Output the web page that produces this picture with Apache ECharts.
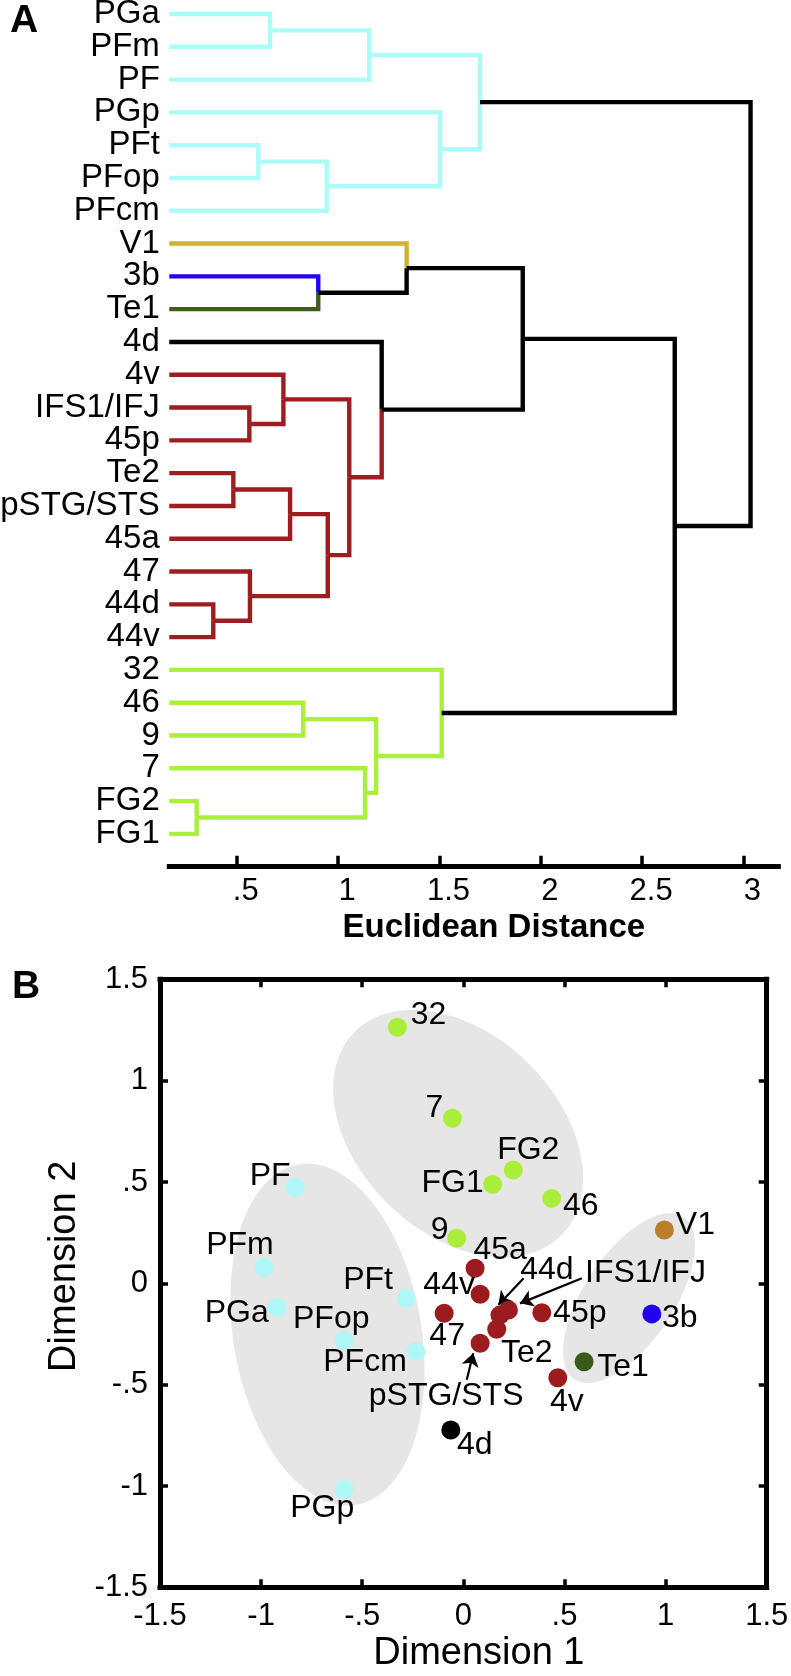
<!DOCTYPE html>
<html><head><meta charset="utf-8">
<script src="https://cdn.jsdelivr.net/npm/echarts@6/dist/echarts.min.js"></script>
<style>html,body{margin:0;padding:0;background:#fff}#c{width:791px;height:1676px}</style>
</head><body><div id="c"></div>
<script>
const FONT = '"Liberation Sans", Arial, Helvetica, sans-serif';

// ---------------- Panel A: dendrogram data ----------------
const leaves = ['PGa','PFm','PF','PGp','PFt','PFop','PFcm','V1','3b','Te1','4d','4v','IFS1/IFJ','45p','Te2','pSTG/STS','45a','47','44d','44v','32','46','9','7','FG2','FG1'];
const leafGroup = ['cyan','cyan','cyan','cyan','cyan','cyan','cyan','gold','blue','dkgreen','black','red','red','red','red','red','red','red','red','red','lime','lime','lime','lime','lime','lime'];
// [node id, child A, child B, merge distance]
const merges = [
  ['c1','PGa','PFm',0.664],
  ['c2','c1','PF',1.154],
  ['c3','PFt','PFop',0.606],
  ['c4','c3','PFcm',0.944],
  ['c5','PGp','c4',1.503],
  ['c6','c2','c5',1.700],
  ['d1','3b','Te1',0.902],
  ['d2','V1','d1',1.338],
  ['r1','IFS1/IFJ','45p',0.562],
  ['r2','4v','r1',0.730],
  ['r3','Te2','pSTG/STS',0.483],
  ['r4','r3','45a',0.763],
  ['r5','44d','44v',0.384],
  ['r6','47','r5',0.565],
  ['r7','r4','r6',0.949],
  ['r8','r2','r7',1.055],
  ['e1','4d','r8',1.215],
  ['e2','d2','e1',1.911],
  ['g1','46','9',0.828],
  ['g2','FG2','FG1',0.302],
  ['g3','7','g2',1.133],
  ['g4','g1','g3',1.187],
  ['g5','32','g4',1.511],
  ['e3','e2','g5',2.661],
  ['root','c6','e3',3.035]
];
const distTicks = [0.5, 1, 1.5, 2, 2.5, 3];
const distMin = 0.167, distMax = 3.172;
const colorThreshold = 2.2;
const treeColor = {cyan:'#abfbf6', gold:'#d2ae3a', blue:'#2400ff', dkgreen:'#3f5d1e', black:'#000000', red:'#9d1d21', lime:'#aaf03a'};

// ---------------- Panel B: MDS data ----------------
const mdsNames = ['PGa','PFm','PF','PGp','PFt','PFop','PFcm','V1','3b','Te1','4d','4v','IFS1/IFJ','45p','Te2','pSTG/STS','45a','47','44d','44v','32','46','9','7','FG2','FG1'];
const dim1 = [-0.923,-0.986,-0.832,-0.589,-0.283,-0.589,-0.234, 0.994, 0.932, 0.597,-0.062, 0.467, 0.223, 0.388, 0.165, 0.083, 0.058,-0.095, 0.181, 0.083,-0.326, 0.437,-0.033,-0.054, 0.247, 0.145];
const dim2 = [-0.118, 0.079, 0.474,-1.016,-0.074,-0.283,-0.337, 0.263,-0.151,-0.387,-0.724,-0.466,-0.132,-0.145,-0.227,-0.296, 0.074,-0.148,-0.157,-0.054, 1.263, 0.419, 0.222, 0.814, 0.559, 0.488];
const dimTicks = [-1.5,-1,-0.5,0,0.5,1,1.5];
// ellipse: [centre dim1, centre dim2, semi-major, semi-minor, angle deg]
const ellipses = [
  [-0.672,-0.253,0.852,0.465,99.6],
  [-0.026, 0.739,0.716,0.491,-44],
  [ 0.819,-0.073,0.483,0.221,56]
];
// arrows: [from dim1, from dim2, to dim1, to dim2]
const arrows = [
  [0.298, 0.025, 0.173,-0.107],
  [0.586, 0.025, 0.280,-0.099],
  [0.017,-0.476, 0.049,-0.345]
];
const dotColor = {cyan:'#b0f7f7', gold:'#bb7f2b', blue:'#2200f0', dkgreen:'#3a5a1b', black:'#000000', red:'#9b1b1f', lime:'#abee3a'};
// label offsets from dot centre, pixels (style)
const labelOffset = {
  'PF':[-25,-11],'PFm':[-24,-22],'PFt':[-38,-18],'PGa':[-40,6],'PFop':[-13,-21],'PFcm':[-51,11],'PGp':[-22,19],
  '32':[31,-12],'7':[-18,-10],'FG2':[15,-20],'FG1':[-40,-1],'46':[29,8],'9':[-17,-8],
  '45a':[25,-18],'44v':[-31,-9],'44d':[47,-45],'IFS1/IFJ':[137,-37],'V1':[31,-5],'45p':[38,0],'3b':[28,4],
  '47':[3,23],'Te2':[30,24],'Te1':[39,5],'pSTG/STS':[-34,53],'4v':[9,24],'4d':[24,15]
};

// ---------------- build dendrogram segments ----------------
const nodes = {};
leaves.forEach((n,i)=>{ nodes[n] = {h:distMin, y:i, g:leafGroup[i]}; });
const segs = [];
merges.forEach(([id,a,b,h])=>{
  const A = nodes[a], B = nodes[b];
  const y = (A.y + B.y)/2;
  const g = A.g === B.g ? A.g : 'mixed';
  nodes[id] = {h, y, g};
  [A,B].forEach(C=>{
    const col = (C.g !== 'mixed' && h < colorThreshold) ? treeColor[C.g] : '#000000';
    segs.push({coords:[[C.h,C.y],[h,C.y],[h,y]], lineStyle:{color:col}});
  });
});

const fmt = v => { const s = String(Math.round(v*10)/10); return s.replace(/^(-?)0\./,'$1.'); };

// scatter series per group
const groups = {};
mdsNames.forEach((n,i)=>{
  const g = leafGroup[leaves.indexOf(n)];
  (groups[g] = groups[g] || []).push({
    value:[dim1[i], dim2[i]], name:n,
    label:{show:true, formatter:n, position:'inside', offset:labelOffset[n], align:'center', verticalAlign:'middle',
      fontSize:32, color:'#000', fontFamily:FONT}
  });
});
const scatterSeries = Object.keys(groups).map(g=>({
  type:'scatter', xAxisIndex:1, yAxisIndex:1, symbol:'circle', symbolSize:19, z:5,
  itemStyle:{color:dotColor[g], opacity:1}, data:groups[g], silent:true
}));

const chart = echarts.init(document.getElementById('c'), null, {renderer:'canvas'});
const axisCommon = {
  axisLine:{show:true, onZero:false, lineStyle:{color:'#000', width:5, cap:'square'}},
  splitLine:{show:false}
};
chart.setOption({
  animation:false,
  backgroundColor:'#fff',
  textStyle:{fontFamily:FONT},
  grid:[
    {left:169.3, top:14, width:609, height:852.7, outerBoundsMode:'none', containLabel:false},
    {left:160, top:979.3, width:606.7, height:608, outerBoundsMode:'none', containLabel:false}
  ],
  xAxis:[
    Object.assign({gridIndex:0, type:'value', min:distMin, max:distMax, position:'bottom',
      axisTick:{show:true, inside:true, length:11, lineStyle:{color:'#000', width:3.5}, customValues:distTicks},
      axisLabel:{show:true, customValues:distTicks, formatter:fmt, fontSize:31, color:'#000', margin:9, padding:[0,0,0,18], fontFamily:FONT},
      name:'Euclidean Distance', nameLocation:'middle', nameGap:37,
      nameTextStyle:{fontSize:33, fontWeight:'bold', color:'#000', fontFamily:FONT, padding:[0,0,0,40]}
    }, axisCommon),
    Object.assign({gridIndex:1, type:'value', min:-1.5, max:1.5, interval:0.5, position:'bottom',
      axisTick:{show:true, inside:true, length:8, lineStyle:{color:'#000', width:3.5}},
      axisLabel:{show:true, formatter:fmt, fontSize:31, color:'#000', margin:14, fontFamily:FONT,
        showMinLabel:true, showMaxLabel:true},
      name:'Dimension 1', nameLocation:'middle', nameGap:47,
      nameTextStyle:{fontSize:38, color:'#000', fontFamily:FONT, padding:[0,0,0,31]}
    }, axisCommon),
    Object.assign({gridIndex:1, type:'value', min:-1.5, max:1.5, interval:0.5, position:'top',
      axisTick:{show:true, inside:true, length:8, lineStyle:{color:'#000', width:3.5}},
      axisLabel:{show:false}
    }, axisCommon)
  ],
  yAxis:[
    {gridIndex:0, type:'value', min:0, max:26, interval:1, inverse:true,
      axisLine:{show:false}, axisTick:{show:false}, splitLine:{show:false}, axisLabel:{show:false}},
    Object.assign({gridIndex:1, type:'value', min:-1.5, max:1.5, interval:0.5, position:'left',
      axisTick:{show:true, inside:true, length:8, lineStyle:{color:'#000', width:3.5}},
      axisLabel:{show:true, formatter:fmt, fontSize:31, color:'#000', margin:12, fontFamily:FONT,
        showMinLabel:true, showMaxLabel:true},
      name:'Dimension 2', nameLocation:'middle', nameRotate:90, nameGap:53,
      nameTextStyle:{fontSize:38, color:'#000', fontFamily:FONT, padding:[0,0,0,34]}
    }, axisCommon),
    Object.assign({gridIndex:1, type:'value', min:-1.5, max:1.5, interval:0.5, position:'right',
      axisTick:{show:true, inside:true, length:8, lineStyle:{color:'#000', width:3.5}},
      axisLabel:{show:false}
    }, axisCommon)
  ],
  graphic:[
    {type:'text', left:10, top:2, style:{text:'A', fontSize:39, fontWeight:'bold', fill:'#000', fontFamily:FONT}},
    {type:'text', left:12, top:968, style:{text:'B', fontSize:39, fontWeight:'bold', fill:'#000', fontFamily:FONT}}
  ],
  series:[
    {type:'lines', coordinateSystem:'cartesian2d', xAxisIndex:0, yAxisIndex:0, polyline:true, silent:true,
      lineStyle:{width:4.4, opacity:1, join:'miter', cap:'butt'}, data:segs, z:3},
    {type:'scatter', xAxisIndex:0, yAxisIndex:0, silent:true, clip:false, symbolSize:1,
      itemStyle:{color:'rgba(255,255,255,0)', opacity:1},
      data:leaves.map((n,i)=>({value:[distMin, i], name:n})),
      label:{show:true, position:'left', distance:9, formatter:p=>p.name, fontSize:33, color:'#000000', opacity:1, fontFamily:FONT}},
    {type:'custom', coordinateSystem:'cartesian2d', xAxisIndex:1, yAxisIndex:1, silent:true, z:1,
      data:ellipses,
      renderItem:(params, api)=>{
        const cx=api.value(0), cy=api.value(1), a=api.value(2), b=api.value(3), ang=api.value(4)*Math.PI/180;
        const pts=[];
        for(let k=0;k<144;k++){
          const t=k/144*2*Math.PI, ex=a*Math.cos(t), ey=b*Math.sin(t);
          pts.push(api.coord([cx+ex*Math.cos(ang)-ey*Math.sin(ang), cy+ex*Math.sin(ang)+ey*Math.cos(ang)]));
        }
        return {type:'polygon', shape:{points:pts}, style:{fill:'#e6e6e6'}};
      }},
    {type:'lines', coordinateSystem:'cartesian2d', xAxisIndex:1, yAxisIndex:1, silent:true, z:4,
      symbol:['none','arrow'], symbolSize:13,
      lineStyle:{color:'#000', width:2.2, opacity:1},
      data:arrows.map(r=>({coords:[[r[0],r[1]],[r[2],r[3]]]}))}
  ].concat(scatterSeries)
});
</script></body></html>
